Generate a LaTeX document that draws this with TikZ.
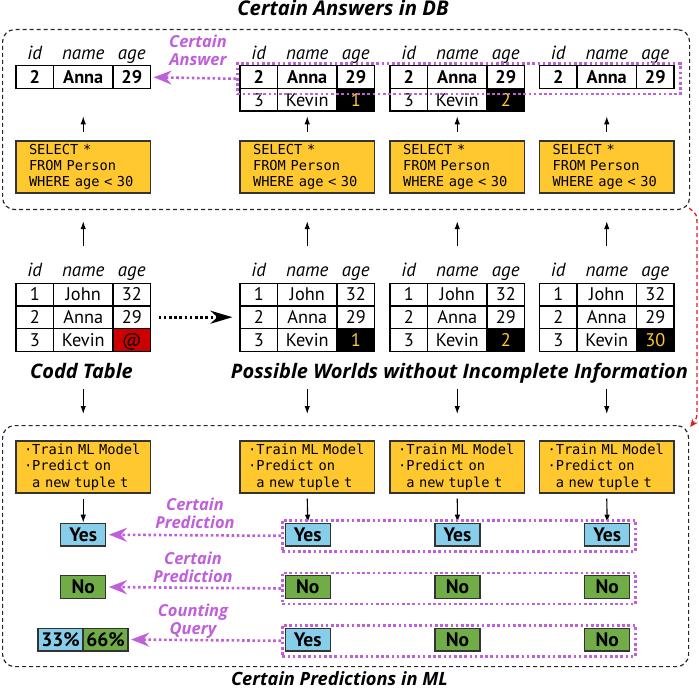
\documentclass[tikz,border=0pt]{standalone}
\usepackage{fontspec}
\setmainfont{PT Sans}
\newfontfamily\codefont{DejaVu Sans Mono}
\newfontfamily\labfont{Open Sans}
\usetikzlibrary{arrows.meta,calc}
\definecolor{qyellow}{RGB}{255,200,46}
\definecolor{skyb}{RGB}{135,206,235}
\definecolor{mlgreen}{RGB}{112,173,71}
\definecolor{purp}{RGB}{191,95,218}
\definecolor{cellred}{RGB}{204,0,0}
\definecolor{orng}{RGB}{255,200,46}
\definecolor{redarrow}{RGB}{220,30,30}

\newcommand\trow[8]{%
  \node[cell,minimum width=37.5pt,#8] (#1i) at (#2+18.75,#3) {#4};
  \node[cell,minimum width=59.5pt,#8] (#1n) at (#2+67.25,#3) {#5};
  \node[cell,minimum width=37.5pt,#8,#7] (#1a) at (#2+115.75,#3) {#6};}
\newcommand\thdr[3]{%
  \node[hdr] (#1i) at (#2+18.75,#3) {id};
  \node[hdr] (#1n) at (#2+67.25,#3) {name};
  \node[hdr] (#1a) at (#2+115.75,#3) {age};}
\newcommand\sqltext{\mbox{SELECT *}\\\mbox{FROM Person}\\\mbox{WHERE age < 30}}
\newcommand\mltext{\mbox{·Train ML Model}\\\mbox{·Predict on}\\\mbox{\phantom{·}a new tuple t}}

\begin{document}
\begin{tikzpicture}[x=1pt,y=-1pt,
  cell/.style={draw=black,line width=1.2pt,minimum height=22.6pt,inner sep=0pt,
    font=\fontsize{18.3}{18}\selectfont,text height=12.8pt,text depth=0pt},
  brow/.style={font=\fontsize{18.3}{18}\selectfont\bfseries},
  blk/.style={fill=black,text=orng},
  redc/.style={fill=cellred},
  hdr/.style={font=\fontsize{19}{19}\selectfont\itshape,inner sep=0pt,anchor=base},
  sqlbox/.style={draw=black!80,line width=1.3pt,fill=qyellow,minimum width=134.5pt,
    minimum height=52pt,inner xsep=13pt,inner ysep=0pt,text width=108.5pt,align=left,
    font=\codefont\fontsize{13.7}{16}\selectfont},
  mlbox/.style={draw=black!80,line width=1.3pt,fill=qyellow,minimum width=134.5pt,
    minimum height=52pt,inner xsep=8pt,inner ysep=0pt,text width=118.5pt,align=left,
    font=\codefont\fontsize{13.7}{16.5}\selectfont},
  ans/.style={draw=black!80,line width=1.3pt,minimum width=45pt,minimum height=22.7pt,
    inner sep=0pt,font=\fontsize{19.5}{19.5}\selectfont\bfseries,text height=13.3pt,text depth=0pt},
  yesb/.style={ans,fill=skyb},
  nob/.style={ans,fill=mlgreen},
  arr/.style={line width=1.1pt,-{Latex[length=8pt,width=5.5pt]}},
  region/.style={draw=black!85,line width=1.2pt,dash pattern=on 4pt off 3pt,rounded corners=12pt,inner sep=0pt},
  pbox/.style={draw=purp,line width=2.6pt,dash pattern=on 2.6pt off 2.6pt,inner sep=0pt},
  parr/.style={draw=purp,line width=2.6pt,dash pattern=on 2.6pt off 2.6pt,
    -{Stealth[length=18pt,width=14pt,inset=6pt,fill=purp]}},
  plabel/.style={text=purp,font=\labfont\fontsize{16.5}{18}\selectfont\bfseries\itshape,align=center,inner sep=0pt},
  title/.style={font=\labfont\fontsize{20}{20}\selectfont\bfseries\itshape,inner sep=0pt,anchor=base}
]
\useasboundingbox (0,0) rectangle (699,695);

% ---------- regions ----------
\node[region,minimum width=687pt,minimum height=180pt,anchor=north west] (topreg) at (2,29) {};
\node[region,minimum width=686pt,minimum height=241pt,anchor=north west] (botreg) at (2,425) {};
\node[title,font=\labfont\fontsize{20.3}{20.3}\selectfont\bfseries\itshape] (ttop) at (343,15.5) {Certain Answers in DB};
\node[title,font=\labfont\fontsize{18.3}{18.3}\selectfont\bfseries\itshape] (tbot) at (339.5,685) {Certain Predictions in ML};

% ---------- top: answers ----------
\thdr{ha}{16}{60}
\thdr{hb}{240}{60}
\thdr{hc}{390}{60}
\thdr{hd}{539.5}{60}
\trow{aa}{16}{77.2}{2}{Anna}{29}{}{brow}
\trow{ba}{240}{77.2}{2}{Anna}{29}{}{brow}
\trow{bb}{240}{99.7}{3}{Kevin}{1}{blk}{}
\trow{ca}{390}{77.2}{2}{Anna}{29}{}{brow}
\trow{cb}{390}{99.7}{3}{Kevin}{2}{blk}{}
\trow{da}{539.5}{77.2}{2}{Anna}{29}{}{brow}

\node[pbox,minimum width=443pt,minimum height=30.4pt,anchor=north west] (pans) at (236,62.3) {};
\draw[parr,shorten >=2.5pt] (pans.west) -- (aaa.east);
\node[plabel] (lans) at (198,50) {Certain\\Answer};

\node[sqlbox] (qa) at (83.25,167) {\sqltext};
\node[sqlbox] (qb) at (307.25,167) {\sqltext};
\node[sqlbox] (qc) at (457.25,167) {\sqltext};
\node[sqlbox] (qd) at (606.75,167) {\sqltext};
\foreach \q in {qa,qb,qc,qd}{
  \draw[arr] ([yshift=8pt]\q.north) -- ([yshift=24pt]\q.north);
}

% ---------- middle: Codd table and worlds ----------
\thdr{hm1}{16}{276.7}
\thdr{hm2}{240}{276.7}
\thdr{hm3}{390}{276.7}
\thdr{hm4}{539.5}{276.7}
\trow{c1}{16}{294.6}{1}{John}{32}{}{}
\trow{c2}{16}{317.2}{2}{Anna}{29}{}{}
\trow{c3}{16}{339.8}{3}{Kevin}{@}{redc}{}
\trow{wa1}{240}{294.6}{1}{John}{32}{}{}
\trow{wa2}{240}{317.2}{2}{Anna}{29}{}{}
\trow{wa3}{240}{339.8}{3}{Kevin}{1}{blk}{}
\trow{wb1}{390}{294.6}{1}{John}{32}{}{}
\trow{wb2}{390}{317.2}{2}{Anna}{29}{}{}
\trow{wb3}{390}{339.8}{3}{Kevin}{2}{blk}{}
\trow{wc1}{539.5}{294.6}{1}{John}{32}{}{}
\trow{wc2}{539.5}{317.2}{2}{Anna}{29}{}{}
\trow{wc3}{539.5}{339.8}{3}{Kevin}{30}{blk}{}

\draw[line width=2.6pt,dash pattern=on 2.6pt off 2.6pt,
  -{Stealth[length=22pt,width=13pt,inset=7pt]},shorten <=7.5pt,shorten >=7pt] (c2a.east) -- (wa2i.west);

\node[title] (lcodd) at (81.5,378.5) {Codd Table};
\node[title] (lworlds) at (459.5,378.5) {Possible Worlds without Incomplete Information};

\foreach \t in {c1n,wa1n,wb1n,wc1n}{
  \draw[arr] ([yshift=36.5pt]\t.north) -- ([yshift=61.5pt]\t.north);
}
\foreach \t in {c3n,wa3n,wb3n,wc3n}{
  \draw[arr] ([yshift=-37pt]\t.south) -- ([yshift=-62.3pt]\t.south);
}

% ---------- bottom: ML ----------
\node[mlbox] (ma) at (83.25,467) {\mltext};
\node[mlbox] (mb) at (307.25,467) {\mltext};
\node[mlbox] (mc) at (457.25,467) {\mltext};
\node[mlbox] (md) at (606.75,467) {\mltext};

\node[yesb] (ya) at (83.25,534.7) {Yes};
\node[yesb] (yb) at (307.8,534.7) {Yes};
\node[yesb] (yc) at (457.5,534.7) {Yes};
\node[yesb] (yd) at (607.2,534.7) {Yes};
\node[nob] (na) at (83.25,587) {No};
\node[nob] (nb) at (307.8,587) {No};
\node[nob] (nc) at (457.5,587) {No};
\node[nob] (nd) at (607.2,587) {No};
\node[yesb] (pa) at (60.5,639.5) {33\%};
\node[nob] (pb) at (105.5,639.5) {66\%};
\node[yesb] (zb) at (307.8,639.5) {Yes};
\node[nob] (zc) at (457.5,639.5) {No};
\node[nob] (zd) at (607.2,639.5) {No};

\draw[arr] ([yshift=-5pt]ma.south) -- (ya.north);
\draw[arr] ([yshift=-5pt]mb.south) -- (yb.north);
\draw[arr] ([yshift=-5pt]mc.south) -- (yc.north);
\draw[arr] ([yshift=-5pt]md.south) -- (yd.north);

\node[pbox,minimum width=353.3pt,minimum height=31pt,anchor=north west] (p1) at (281,519) {};
\node[pbox,minimum width=353.3pt,minimum height=31pt,anchor=north west] (p2) at (281,571.7) {};
\node[pbox,minimum width=353.3pt,minimum height=31pt,anchor=north west] (p3) at (281,624) {};

\draw[parr,shorten >=2.5pt] (p1.west) -- (ya.east);
\draw[parr,shorten >=2.5pt] (p2.west) -- (na.east);
\draw[parr,shorten >=2.5pt] (p3.west) -- (pb.east);

\node[plabel] (l1) at (195,513) {Certain\\Prediction};
\node[plabel] (l2) at (193,567) {Certain\\Prediction};
\node[plabel] (l3) at (193,621.5) {Counting\\Query};

% ---------- red connector ----------
\draw[redarrow,line width=1.3pt,dash pattern=on 4pt off 3pt,-{Stealth[length=8pt,width=7pt]}]
  ([xshift=-1pt,yshift=2pt]topreg.south east) .. controls (697,214) .. (697,228)
  -- (697,408) .. controls (697,418) .. ([xshift=1pt,yshift=-2pt]botreg.north east);
\end{tikzpicture}
\end{document}
